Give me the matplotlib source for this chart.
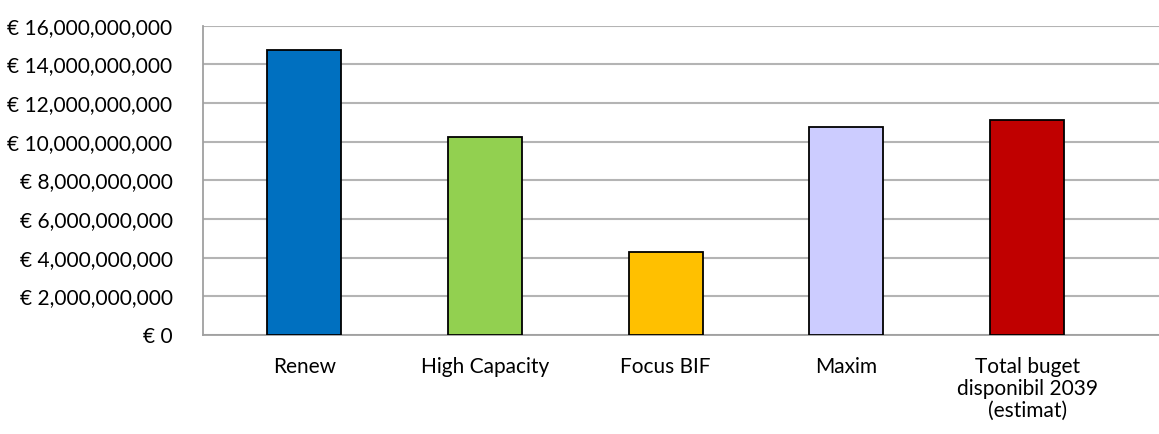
import matplotlib.pyplot as plt
from matplotlib.ticker import FuncFormatter

categories = ['Renew', 'High Capacity', 'Focus BIF', 'Maxim',
              'Total buget\ndisponibil 2039\n(estimat)']
values = [14.74e9, 10.24e9, 4.31e9, 10.74e9, 11.11e9]
colors = ['#0070C0', '#92D050', '#FFC000', '#CCCCFF', '#C00000']
y_ticks = [0, 2e9, 4e9, 6e9, 8e9, 10e9, 12e9, 14e9, 16e9]

plt.rcParams['font.family'] = ['Lato', 'DejaVu Sans']

fig = plt.figure(figsize=(11.59, 4.34), dpi=100)
ax = fig.add_axes([0.1752, 0.228, 0.8248, 0.7128])

x = list(range(len(categories)))
ax.bar(x, values, width=0.41, color=colors, edgecolor='black',
       linewidth=1.3, zorder=3)

ax.set_ylim(0, 16e9)
ax.set_yticks(y_ticks)
ax.yaxis.set_major_formatter(FuncFormatter(lambda v, p: '€ {:,.0f}'.format(v)))
ax.set_xlim(-0.56, 4.73)
ax.set_xticks(x)
ax.set_xticklabels(categories, linespacing=1.1)

ax.grid(axis='y', color='#b4b4b4', linewidth=1.5, zorder=0)
for s in ['top', 'right']:
    ax.spines[s].set_visible(False)
for s in ['left', 'bottom']:
    ax.spines[s].set_color('#a0a0a0')
    ax.spines[s].set_linewidth(1.3)
ax.tick_params(axis='both', length=0, labelsize=15, colors='black')
ax.tick_params(axis='y', pad=22)
ax.tick_params(axis='x', pad=16)

fig.savefig('out.png', dpi=100)
